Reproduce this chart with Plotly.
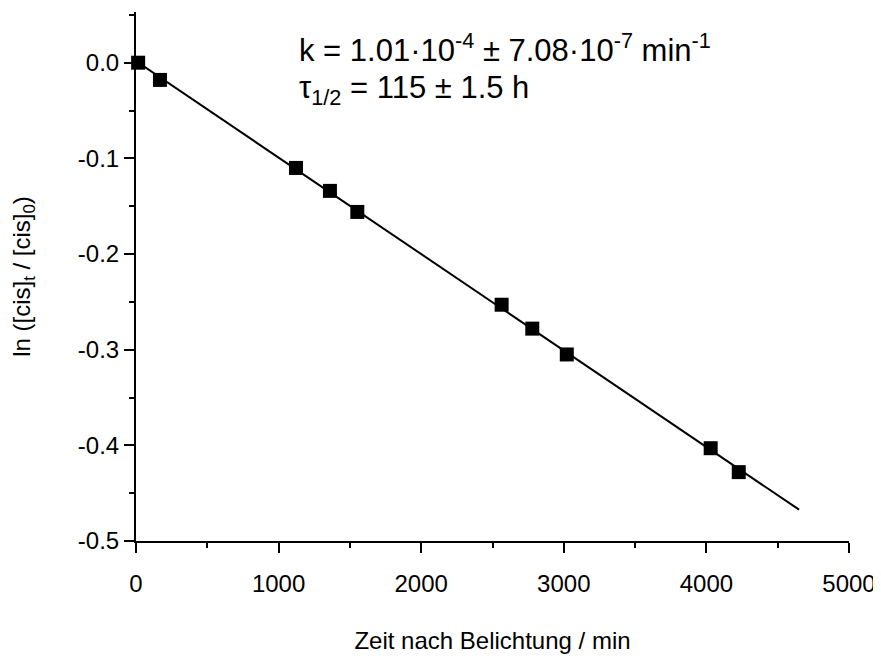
import numpy as np
import plotly.graph_objects as go

# Data
time_min = [15, 168, 1122, 1360, 1552, 2564, 2779, 3021, 4030, 4227]
ln_ratio = [0.0, -0.018, -0.110, -0.134, -0.156, -0.253, -0.278, -0.305, -0.403, -0.428]
fit_range = [0, 4650]

x_ticks = [0, 1000, 2000, 3000, 4000, 5000]
y_ticks = [0.0, -0.1, -0.2, -0.3, -0.4, -0.5]
y_tick_text = ["0.0", "-0.1", "-0.2", "-0.3", "-0.4", "-0.5"]

slope, intercept = np.polyfit(time_min, ln_ratio, 1)
fit_x = np.array(fit_range, dtype=float)
fit_y = slope * fit_x + intercept

FONT = "Liberation Sans, Arial, sans-serif"

fig = go.Figure()
fig.add_trace(go.Scatter(x=fit_x, y=fit_y, mode="lines",
                         line=dict(color="black", width=2), showlegend=False,
                         cliponaxis=False))
fig.add_trace(go.Scatter(x=time_min, y=ln_ratio, mode="markers",
                         marker=dict(symbol="square", size=14, color="black"),
                         showlegend=False, cliponaxis=False))

axis_common = dict(showline=True, linecolor="black", linewidth=2,
                   ticks="outside", ticklen=10, tickwidth=2, tickcolor="black",
                   showgrid=False, zeroline=False, automargin=False,
                   tickfont=dict(family=FONT, size=24, color="black"))

fig.update_xaxes(range=[0, 5000], tickvals=x_ticks, ticklabelstandoff=10,
                 minor=dict(ticks="outside", ticklen=5, tickwidth=2, tickcolor="black", dtick=500),
                 title=dict(text="Zeit nach Belichtung / min",
                            font=dict(family=FONT, size=24, color="black"), standoff=36),
                 **axis_common)
fig.update_yaxes(range=[-0.5, 0.053], tickvals=y_ticks, ticktext=y_tick_text,
                 minor=dict(ticks="outside", ticklen=5, tickwidth=2, tickcolor="black", dtick=0.05),
                 title=dict(text="ln ([cis]<sub>t</sub> / [cis]<sub>0</sub>)",
                            font=dict(family=FONT, size=24, color="black"), standoff=40),
                 **axis_common)

fig.add_annotation(xref="paper", yref="paper", x=0.226, y=0.932, xanchor="left", yanchor="middle",
                   text="k = 1.01·10<sup>-4</sup> ± 7.08·10<sup>-7</sup> min<sup>-1</sup>",
                   showarrow=False, font=dict(family=FONT, size=31, color="black"))
fig.add_annotation(xref="paper", yref="paper", x=0.226, y=0.852, xanchor="left", yanchor="middle",
                   text="τ<sub>1/2</sub> = 115 ± 1.5 h",
                   showarrow=False, font=dict(family=FONT, size=31, color="black"))

# The page body adds an 8 px offset, so the figure is 8 px smaller and margins compensate
fig.update_layout(width=873, height=654,
                  margin=dict(l=128, r=32, t=4, b=121, autoexpand=False),
                  plot_bgcolor="white", paper_bgcolor="white")

fig.write_html("out.html")
